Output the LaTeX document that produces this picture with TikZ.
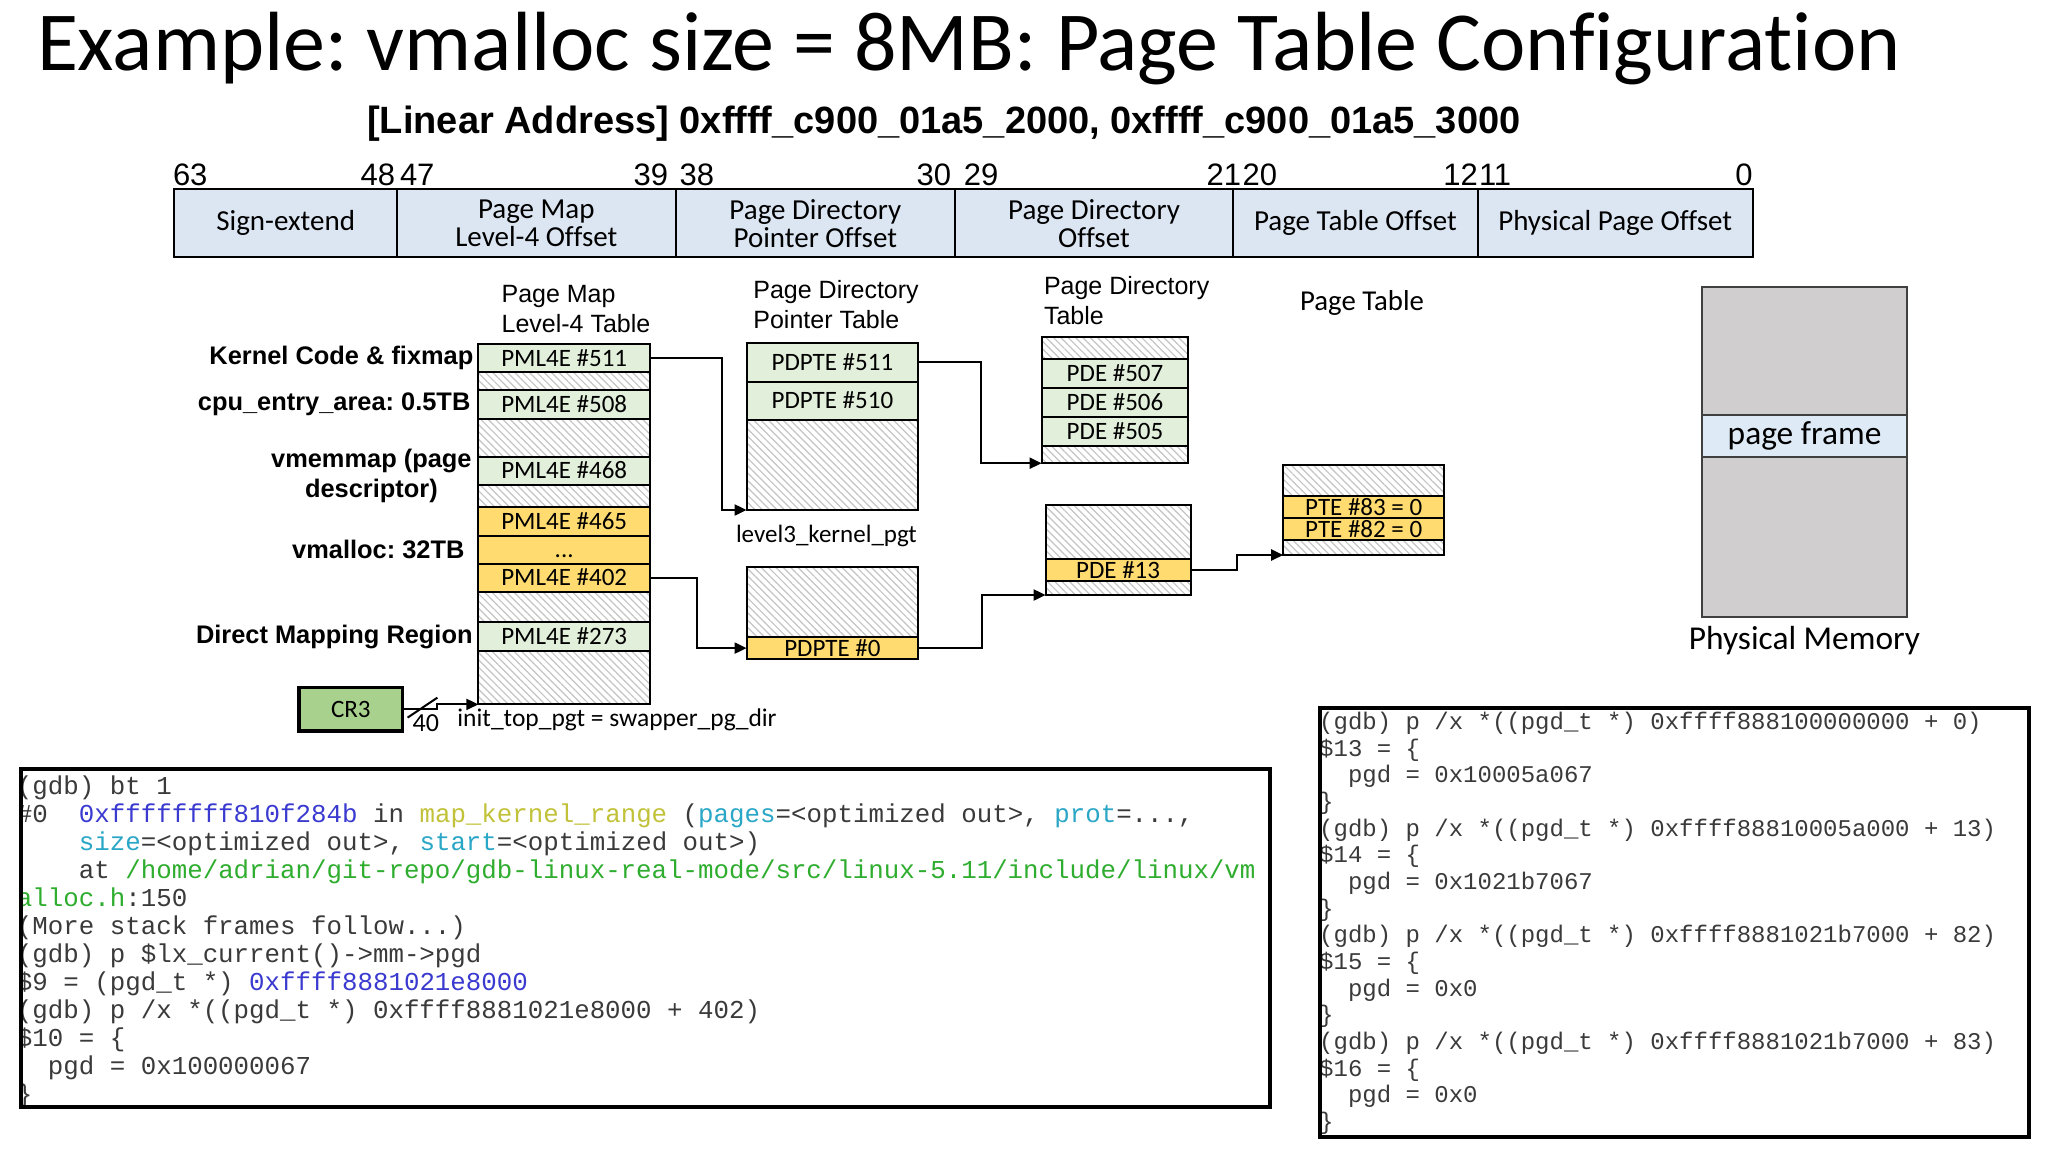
\documentclass[tikz,border=0pt]{standalone}
\usepackage{fontspec}
\setmainfont{Carlito}[Ligatures={TeX,NoCommon}]
\setmonofont{Liberation Mono}
\newfontfamily\arialfont{Liberation Sans}
\usepackage{tikz}
\usetikzlibrary{positioning,calc,arrows.meta,patterns.meta}
\frenchspacing

\definecolor{barblue}{HTML}{DCE6F2}
\definecolor{rowgreen}{HTML}{E2EFDA}
\definecolor{rowyellow}{HTML}{FFDB70}
\definecolor{cr3green}{HTML}{A9D18E}
\definecolor{memgray}{HTML}{D0CECE}
\definecolor{frameblue}{HTML}{DEEBF7}
\definecolor{hatchgray}{HTML}{C4C4C4}
\definecolor{gdbtext}{HTML}{3A3A3A}
\definecolor{gdbblue}{HTML}{3A3AD0}
\definecolor{gdbyellow}{HTML}{C2C23A}
\definecolor{gdbcyan}{HTML}{2AA6C6}
\definecolor{gdbgreen}{HTML}{2EAD2E}

\begin{document}
\begin{tikzpicture}[x=1pt, y=-1pt,
    every node/.style={inner sep=0pt, outer sep=0pt},
    cell/.style={draw, line width=1pt, text height=8pt, text depth=0pt, font=\fontsize{12.5}{14}\selectfont},
    greencell/.style={cell, fill=rowgreen},
    yellowcell/.style={cell, fill=rowyellow},
    blank/.style={draw, line width=1pt, text height=0pt, text depth=0pt,
        pattern={Lines[angle=-45,distance=2.6pt,line width=0.6pt]}, pattern color=hatchgray},
    barcell/.style={draw, line width=1pt, fill=barblue, minimum height=34pt, align=center, font=\fontsize{14.5}{14.2}\selectfont},
    bitnum/.style={font=\arialfont\fontsize{15.5}{16}\selectfont},
    region/.style={font=\arialfont\bfseries\fontsize{12.7}{15}\selectfont, align=center},
    header/.style={font=\arialfont\fontsize{12.5}{15}\selectfont, align=left, anchor=north west},
    link/.style={line width=1pt, -{Triangle[length=6pt,width=5.5pt]}},
    gdbcode/.style={font=\ttfamily\fontsize{12.9}{14}\selectfont, text=gdbtext, align=left, anchor=north west}]

    \path[fill=white, use as bounding box] (0,0) rectangle (1024,576);

    % --- Title ---
    \node[anchor=base west, font=\fontsize{42}{50}\selectfont] (title) at (18.5,35) {Example: vmalloc size = 8MB: Page Table Configuration};
    \node[anchor=base, font=\arialfont\bfseries\fontsize{19}{22}\selectfont] (linaddr) at (472,66.5) {[Linear Address] 0xffff\_c900\_01a5\_2000, 0xffff\_c900\_01a5\_3000};

    % --- Linear address fields ---
    \node[barcell, minimum width=111.3pt, anchor=north west] (signext) at (87.2,94.7) {Sign-extend};
    \node[barcell, minimum width=139.3pt, right=0pt of signext] (pml4off) {Page Map\\Level-4 Offset};
    \node[barcell, minimum width=139.7pt, right=0pt of pml4off] (pdptoff) {Page Directory\\Pointer Offset};
    \node[barcell, minimum width=139pt, right=0pt of pdptoff] (pdoff) {Page Directory\\Offset};
    \node[barcell, minimum width=122.4pt, right=0pt of pdoff] (ptoff) {Page Table Offset};
    \node[barcell, minimum width=137.4pt, right=0pt of ptoff] (pgoff) {Physical Page Offset};

    % Bit numbers
    \node[bitnum, anchor=base west] (bit63) at (86.5,92.5) {63};
    \node[bitnum, anchor=base east] (bit48) at (197.5,92.5) {48};
    \node[bitnum, anchor=base west] (bit47) at (200,92.5) {47};
    \node[bitnum, anchor=base east] (bit39) at (334,92.5) {39};
    \node[bitnum, anchor=base west] (bit38) at (339.8,92.5) {38};
    \node[bitnum, anchor=base east] (bit30) at (475.5,92.5) {30};
    \node[bitnum, anchor=base west] (bit29) at (481.9,92.5) {29};
    \node[bitnum, anchor=base east] (bit21) at (620.5,92.5) {21};
    \node[bitnum, anchor=base west] (bit20) at (621.3,92.5) {20};
    \node[bitnum, anchor=base east] (bit12) at (738.9,92.5) {12};
    \node[bitnum, anchor=base west] (bit11) at (739.5,92.5) {11};
    \node[bitnum, anchor=base east] (bit0) at (876.3,92.5) {0};

    % --- Table headers ---
    \node[header] (hdrpml) at (250.8,142.5) {Page Map\\Level-4 Table};
    \node[header] (hdrpdpt) at (376.7,140) {Page Directory\\Pointer Table};
    \node[header] (hdrpd) at (522,138) {Page Directory\\Table};
    \node[anchor=base, font=\fontsize{14.4}{16}\selectfont] (hdrpt) at (681,155) {Page Table};

    % --- Page Map Level-4 Table ---
    \begin{scope}[every node/.append style={minimum width=85.8pt}]
        \node[greencell, minimum height=14.2pt, anchor=north west] (pml511) at (239.2,172) {PML4E \#511};
        \node[blank, minimum height=8.8pt, below=0pt of pml511] (pmlh1) {};
        \node[greencell, minimum height=14.5pt, below=0pt of pmlh1] (pml508) {PML4E \#508};
        \node[blank, minimum height=18.9pt, below=0pt of pml508] (pmlh2) {};
        \node[greencell, minimum height=14.1pt, below=0pt of pmlh2] (pml468) {PML4E \#468};
        \node[blank, minimum height=10.9pt, below=0pt of pml468] (pmlh3) {};
        \node[yellowcell, minimum height=14.5pt, below=0pt of pmlh3] (pml465) {PML4E \#465};
        \node[yellowcell, minimum height=14.1pt, below=0pt of pml465] (pmldots) {...};
        \node[yellowcell, minimum height=13.9pt, below=0pt of pmldots] (pml402) {PML4E \#402};
        \node[blank, minimum height=15.3pt, below=0pt of pml402] (pmlh4) {};
        \node[greencell, minimum height=14.2pt, below=0pt of pmlh4] (pml273) {PML4E \#273};
        \node[blank, minimum height=26.8pt, below=0pt of pml273] (pmlh5) {};
    \end{scope}

    % Region labels
    \node[region, left=2.5pt of pml511] (lblkernel) {Kernel Code \& fixmap};
    \node[region, left=4pt of pml508] (lblcpu) {cpu\_entry\_area: 0.5TB};
    \node[region, left=3.4pt of pml468, yshift=-2.4pt] (lblvmemmap) {vmemmap (page\\descriptor)};
    \node[region, left=7pt of pmldots] (lblvmalloc) {vmalloc: 32TB};
    \node[region, left=2.9pt of pml273] (lbldirect) {Direct Mapping Region};

    % --- Page Directory Pointer Tables ---
    \begin{scope}[every node/.append style={minimum width=85.8pt}]
        \node[greencell, minimum height=19.5pt, anchor=north west] (pdpte511) at (373.3,171.3) {PDPTE \#511};
        \node[greencell, minimum height=19.2pt, below=0pt of pdpte511] (pdpte510) {PDPTE \#510};
        \node[blank, minimum height=45pt, below=0pt of pdpte510] (pdpth1) {};
        \node[blank, minimum height=34.7pt, anchor=north west] (pdpth2) at (373.3,283.7) {};
        \node[yellowcell, minimum height=11.3pt, below=0pt of pdpth2] (pdpte0) {PDPTE \#0};
    \end{scope}
    \node[below=7.5pt of pdpth1, xshift=-3pt, font=\fontsize{12.5}{14}\selectfont] (lvl3) {level3\_kernel\_pgt};

    % --- Page Directory Tables ---
    \begin{scope}[every node/.append style={minimum width=73.4pt}]
        \node[blank, minimum height=11.3pt, anchor=north west] (pdah1) at (520.8,168.3) {};
        \node[greencell, minimum height=14.5pt, below=0pt of pdah1] (pde507) {PDE \#507};
        \node[greencell, minimum height=14.2pt, below=0pt of pde507] (pde506) {PDE \#506};
        \node[greencell, minimum height=14.5pt, below=0pt of pde506] (pde505) {PDE \#505};
        \node[blank, minimum height=8.8pt, below=0pt of pde505] (pdah2) {};
    \end{scope}
    \begin{scope}[every node/.append style={minimum width=72.5pt}]
        \node[blank, minimum height=27.2pt, anchor=north west] (pdbh1) at (522.8,252.5) {};
        \node[yellowcell, minimum height=10.8pt, below=0pt of pdbh1] (pde13) {PDE \#13};
        \node[blank, minimum height=7pt, below=0pt of pde13] (pdbh2) {};
    \end{scope}

    % --- Page Table ---
    \begin{scope}[every node/.append style={minimum width=80.5pt}]
        \node[blank, minimum height=15.5pt, anchor=north west] (pth1) at (641.6,232.5) {};
        \node[yellowcell, minimum height=11.2pt, below=0pt of pth1] (pte83) {PTE \#83 = 0};
        \node[yellowcell, minimum height=10.8pt, below=0pt of pte83] (pte82) {PTE \#82 = 0};
        \node[blank, minimum height=7.5pt, below=0pt of pte82] (pth2) {};
    \end{scope}

    % --- Physical memory ---
    \begin{scope}[every node/.append style={minimum width=102.5pt, draw=black!75, line width=1pt}]
        \node[fill=memgray, minimum height=63.8pt, anchor=north west] (memtop) at (851,143.7) {};
        \node[fill=frameblue, minimum height=21.2pt, below=0pt of memtop, font=\fontsize{16.7}{18}\selectfont] (pgframe) {page frame};
        \node[fill=memgray, minimum height=79.7pt, below=0pt of pgframe] (membot) {};
    \end{scope}
    \node[below=4.5pt of membot, font=\fontsize{16.7}{18}\selectfont] (physmem) {Physical Memory};

    % --- CR3 ---
    \node[draw, line width=1.7pt, fill=cr3green, minimum width=51.8pt, minimum height=21.8pt, font=\fontsize{12.5}{14}\selectfont] (cr3) at (175.4,354.6) {CR3};
    \draw[link] (cr3.east) -- ++(17,0) |- (pmlh5.south west);
    \draw[line width=1pt] ($(cr3.east)+(2.5,4.2)$) -- ++(14.9,-10);
    \node[anchor=base west, font=\fontsize{13}{14}\selectfont] (bits40) at (206.3,365.8) {40};
    \node[anchor=base west, font=\fontsize{12.75}{14}\selectfont] (inittop) at (228.7,363.3) {init\_top\_pgt = swapper\_pg\_dir};

    % --- Table walk ---
    \draw[link] (pml511.east) -| ($(pdpth1.south west)+(-12.5,0)$) -- (pdpth1.south west);
    \draw[link] (pml402.east) -| ($(pdpte0.west)+(-24.6,0)$) -- (pdpte0.west);
    \draw[link] (pdpte511.east) -| ($(pdah2.south west)+(-30.3,0)$) -- (pdah2.south west);
    \draw[link] (pdpte0.east) -| ($(pdbh2.south west)+(-31.9,0)$) -- (pdbh2.south west);
    \draw[link] (pde13.east) -| ($(pth2.south west)+(-23,0)$) -- (pth2.south west);

    % --- gdb session (left) ---
    \begin{scope}
        \clip (10.5,384.7) rectangle (634.8,553.7);
        \node[gdbcode] (gdbleft) at (8.5,387.7) {(gdb) bt 1\\
\#0~~\textcolor{gdbblue}{0xffffffff810f284b} in \textcolor{gdbyellow}{map\_kernel\_range} (\textcolor{gdbcyan}{pages}=<optimized out>, \textcolor{gdbcyan}{prot}=...,\\
\hphantom{0000}\textcolor{gdbcyan}{size}=<optimized out>, \textcolor{gdbcyan}{start}=<optimized out>)\\
\hphantom{0000}at \textcolor{gdbgreen}{/home/adrian/git-repo/gdb-linux-real-mode/src/linux-5.11/include/linux/vm}\\
\textcolor{gdbgreen}{alloc.h}:150\\
(More stack frames follow...)\\
(gdb) p \$lx\_current()->mm->pgd\\
\$9 = (pgd\_t *) \textcolor{gdbblue}{0xffff8881021e8000}\\
(gdb) p /x *((pgd\_t *) 0xffff8881021e8000 + 402)\\
\$10 = \{\\
\hphantom{00}pgd = 0x100000067\\
\}};
    \end{scope}
    \node[draw, line width=2pt, minimum width=624.3pt, minimum height=169pt, anchor=north west] (gdbleftbox) at (10.5,384.7) {};

    % --- gdb session (right) ---
    \begin{scope}
        \clip (660.2,354.2) rectangle (1014.3,568.7);
        \node[gdbcode, font=\ttfamily\fontsize{12}{13.33}\selectfont] (gdbright) at (659.6,356.1) {(gdb) p /x *((pgd\_t *) 0xffff888100000000 + 0)\\
\$13 = \{\\
\hphantom{00}pgd = 0x10005a067\\
\}\\
(gdb) p /x *((pgd\_t *) 0xffff88810005a000 + 13)\\
\$14 = \{\\
\hphantom{00}pgd = 0x1021b7067\\
\}\\
(gdb) p /x *((pgd\_t *) 0xffff8881021b7000 + 82)\\
\$15 = \{\\
\hphantom{00}pgd = 0x0\\
\}\\
(gdb) p /x *((pgd\_t *) 0xffff8881021b7000 + 83)\\
\$16 = \{\\
\hphantom{00}pgd = 0x0\\
\}};
    \end{scope}
    \node[draw, line width=2pt, minimum width=354.1pt, minimum height=214.5pt, anchor=north west] (gdbrightbox) at (660.2,354.2) {};

\end{tikzpicture}
\end{document}
